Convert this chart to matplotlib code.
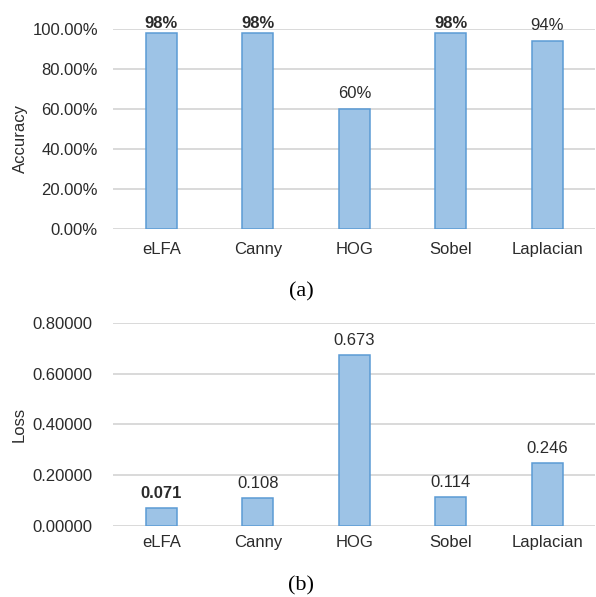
import matplotlib
matplotlib.use("Agg")
import matplotlib.pyplot as plt
from matplotlib.ticker import FuncFormatter

methods = ["eLFA", "Canny", "HOG", "Sobel", "Laplacian"]
accuracy = [0.98, 0.98, 0.60, 0.98, 0.94]
accuracy_labels = ["98%", "98%", "60%", "98%", "94%"]
accuracy_bold = [True, True, False, True, False]
loss = [0.071, 0.108, 0.673, 0.114, 0.246]
loss_labels = ["0.071", "0.108", "0.673", "0.114", "0.246"]
loss_bold = [True, False, False, False, False]

plt.rcParams["font.family"] = ["Liberation Sans", "DejaVu Sans"]
TXT = "#2b2b2b"
FILL = "#9DC3E6"
EDGE = "#5B9BD5"
GRID = "#D9D9D9"

fig = plt.figure(figsize=(5.96, 5.97), dpi=100)
ax1 = fig.add_axes([0.19, 0.616, 0.809, 0.336])
ax2 = fig.add_axes([0.19, 0.1194, 0.809, 0.3396])


def style(ax, ymax, step, fmt, xpad, ypad):
    ax.set_xlim(-0.5, len(methods) - 0.5)
    ax.set_ylim(0, ymax)
    ticks = [i * step for i in range(int(round(ymax / step)) + 1)]
    ax.set_yticks(ticks)
    ax.yaxis.set_major_formatter(FuncFormatter(fmt))
    ax.set_xticks(range(len(methods)))
    ax.set_xticklabels(methods)
    for s in ax.spines.values():
        s.set_visible(False)
    ax.tick_params(axis="both", length=0, labelsize=12, colors=TXT)
    ax.tick_params(axis="x", pad=xpad)
    ax.tick_params(axis="y", pad=ypad)
    ax.grid(axis="y", color=GRID, linewidth=1.4)
    ax.set_axisbelow(True)


def bars(ax, values, labels, bold, offsets):
    rects = ax.bar(range(len(values)), values, width=0.32, color=FILL,
                   edgecolor=EDGE, linewidth=1.1, zorder=3)
    for r, lab, b, off in zip(rects, labels, bold, offsets):
        ax.annotate(lab, (r.get_x() + r.get_width() / 2, r.get_height()),
                    xytext=(0, off), textcoords="offset points",
                    ha="center", va="bottom", fontsize=12, color=TXT,
                    fontweight="bold" if b else "normal", annotation_clip=False)


style(ax1, 1.0, 0.2, lambda v, p: f"{v * 100:.2f}%", 9.5, 11)
bars(ax1, accuracy, accuracy_labels, accuracy_bold,
     [1.0 if b else 5.5 for b in accuracy_bold])
ax1.set_ylabel("Accuracy", fontsize=12, color=TXT)
ax1.yaxis.set_label_coords(-0.176, 0.45)

style(ax2, 0.8, 0.2, lambda v, p: f"{v:.5f}", 6.5, 15)
bars(ax2, loss, loss_labels, loss_bold, [5.0] * len(loss))
ax2.set_ylabel("Loss", fontsize=12, color=TXT)
ax2.yaxis.set_label_coords(-0.18, 0.5)

fig.text(0.505, 1 - 292 / 597, "(a)", family="Liberation Serif", fontsize=16,
         ha="center", va="center", color="black")
fig.text(0.505, 1 - 586 / 597, "(b)", family="Liberation Serif", fontsize=16,
         ha="center", va="center", color="black")

fig.savefig("out.png", dpi=100, facecolor="white")
